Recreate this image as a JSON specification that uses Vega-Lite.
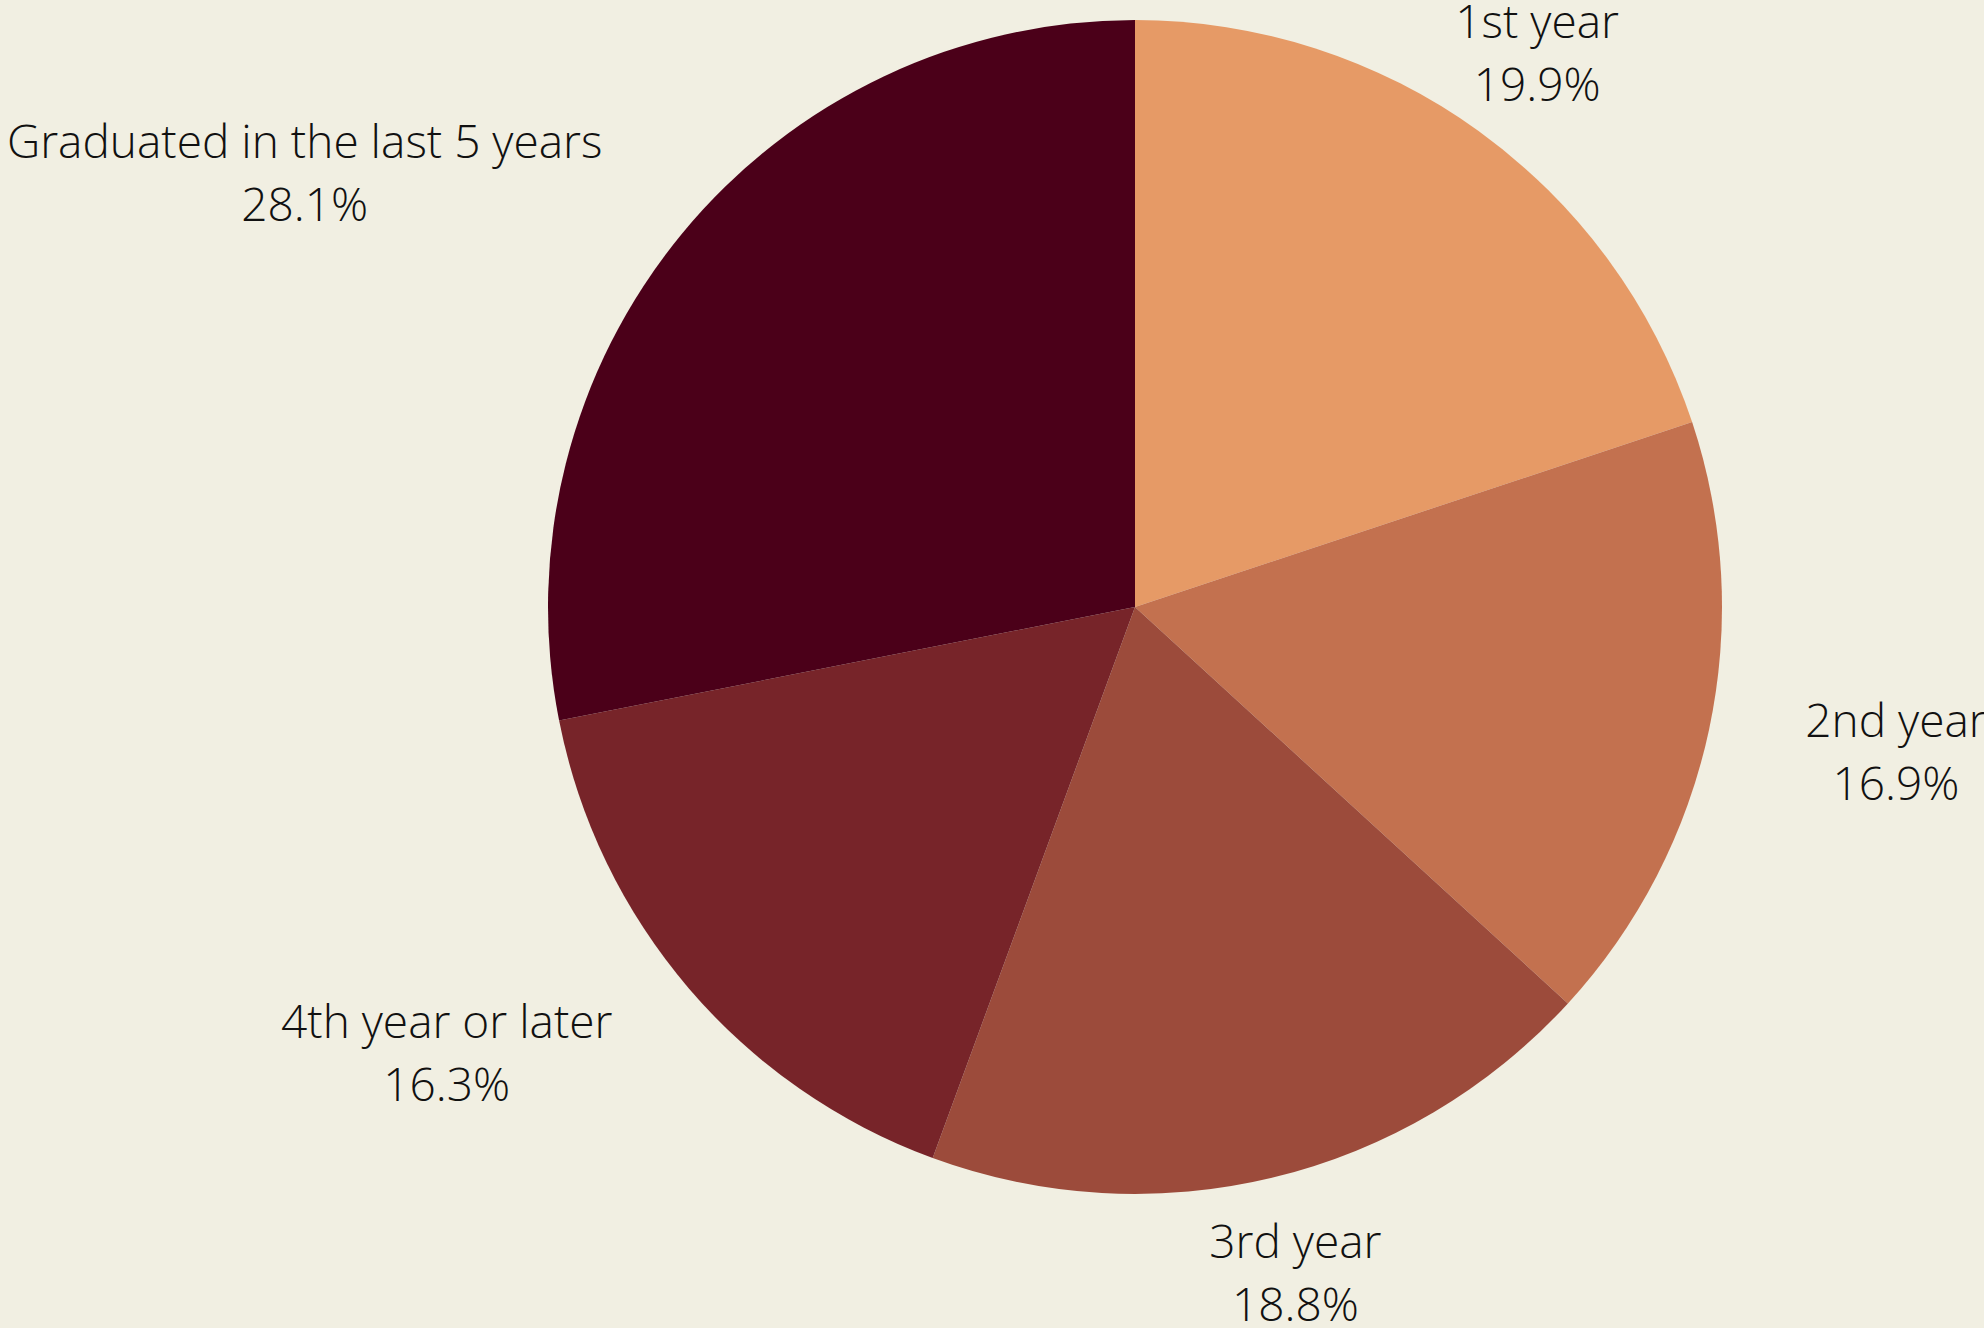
{
  "$schema": "https://vega.github.io/schema/vega-lite/v6.json",
  "autosize": {"type": "none"},
  "padding": {"left": 286, "top": 0, "right": 0, "bottom": 114},
  "width": 1698,
  "height": 1214,
  "background": "#F1EFE2",
  "view": {"stroke": null},
  "data": {
    "values": [
      {"category": "1st year", "value": 19.9},
      {"category": "2nd year", "value": 16.9},
      {"category": "3rd year", "value": 18.8},
      {"category": "4th year or later", "value": 16.3},
      {"category": "Graduated in the last 5 years", "value": 28.1}
    ]
  },
  "transform": [
    {"calculate": "datum.category + '\\n' + format(datum.value, '.1f') + '%'", "as": "label"}
  ],
  "encoding": {
    "theta": {"field": "value", "type": "quantitative", "stack": true},
    "order": {"field": "category", "sort": "ascending"}
  },
  "layer": [
    {
      "mark": {"type": "arc", "radius": 587, "stroke": null},
      "encoding": {
        "color": {
          "field": "category",
          "type": "nominal",
          "legend": null,
          "scale": {
            "domain": ["1st year", "2nd year", "3rd year", "4th year or later", "Graduated in the last 5 years"],
            "range": ["#E69A66", "#C3714F", "#9C4B3B", "#772429", "#4B0019"]
          }
        }
      }
    },
    {
      "mark": {
        "type": "text",
        "font": "Open Sans",
        "fontWeight": 300,
        "fontSize": 46,
        "color": "#111111",
        "lineBreak": "\n",
        "lineHeight": 63,
        "align": "center",
        "baseline": "alphabetic",
        "radius": {"expr": "datum.category == '1st year' ? 697 : datum.category == '2nd year' ? 772 : datum.category == '3rd year' ? 670 : datum.category == '4th year or later' ? 812 : 944"},
        "thetaOffset": {"expr": "datum.category == '1st year' ? -0.0101 : datum.category == '2nd year' ? -0.0414 : datum.category == '3rd year' ? -0.003 : datum.category == '4th year or later' ? 0.1475 : -0.1922"}
      },
      "encoding": {
        "text": {"field": "label", "type": "nominal"}
      }
    }
  ]
}
